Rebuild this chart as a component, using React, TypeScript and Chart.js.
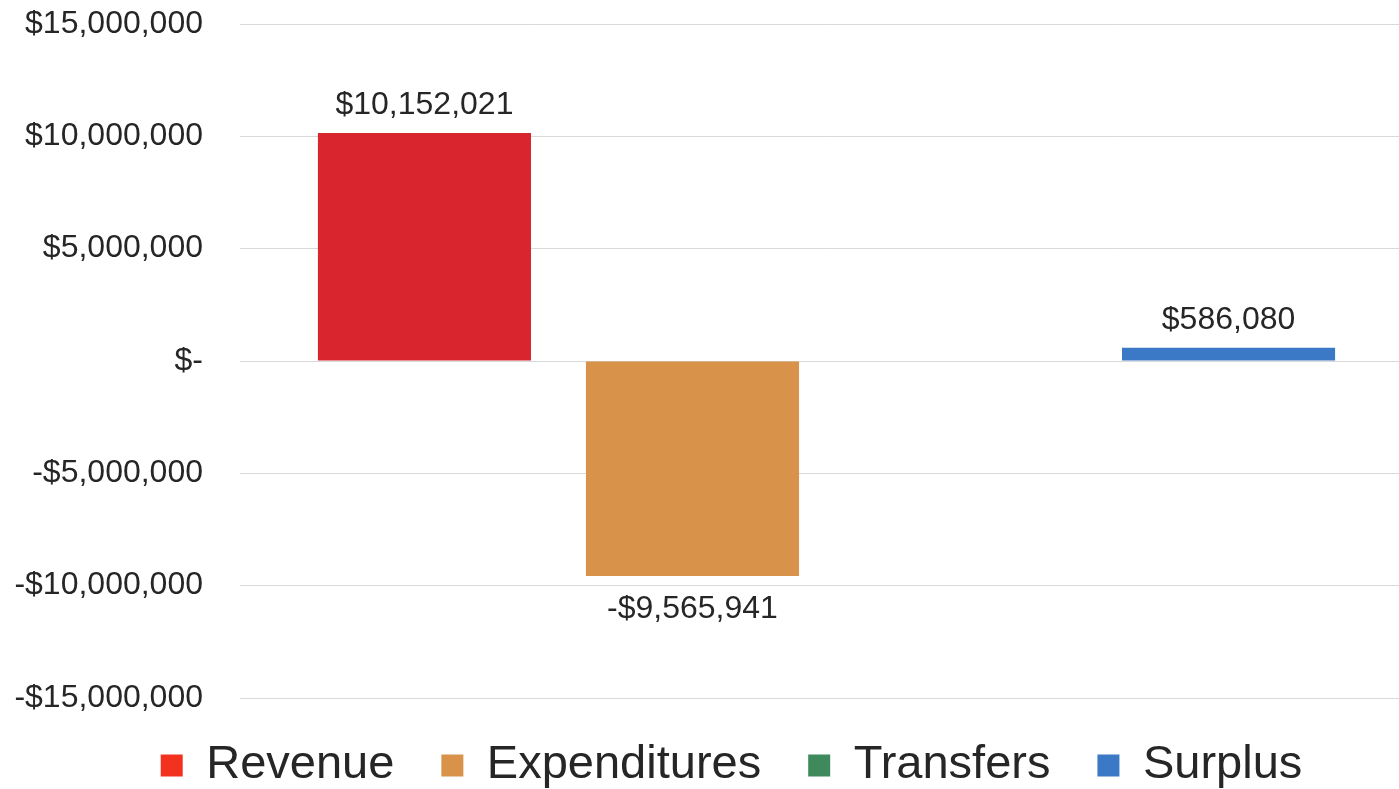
import React, { useEffect, useRef } from "react";
import { Chart, registerables } from "chart.js";

Chart.register(...registerables);

const categories = [""];
const seriesNames = ["Revenue", "Expenditures", "Transfers", "Surplus"];
const seriesValues = [10152021, -9565941, 0, 586080];
const seriesColors = ["#d9252e", "#d8924a", "#3f8a5c", "#3b78c6"];
const legendColors = ["#f2321f", "#d8924a", "#3f8a5c", "#3b78c6"];
const tickValues = [-15000000, -10000000, -5000000, 0, 5000000, 10000000, 15000000];

const fmt = (v: number) => {
  if (v === 0) return "$-";
  const s = Math.abs(v).toLocaleString("en-US");
  return (v < 0 ? "-$" : "$") + s;
};

const FONT = "'Liberation Sans', Arial, sans-serif";

const valueLabels = {
  id: "valueLabels",
  afterDatasetsDraw(chart: any) {
    const ctx = chart.ctx;
    ctx.save();
    ctx.font = `32px ${FONT}`;
    ctx.fillStyle = "#262626";
    ctx.textAlign = "center";
    ctx.textBaseline = "middle";
    chart.data.datasets.forEach((ds: any, i: number) => {
      const meta = chart.getDatasetMeta(i);
      meta.data.forEach((bar: any, j: number) => {
        const v = ds.data[j];
        if (!v) return;
        const y = v >= 0 ? bar.y - 28 : bar.y + 33;
        ctx.fillText(fmt(v), bar.x, y);
      });
    });
    ctx.restore();
  },
};

const legendShift = {
  id: "legendShift",
  afterLayout(chart: any) {
    if (chart.legend) {
      chart.legend.top -= 3;
      chart.legend.bottom -= 3;
      chart.legend.left += 25;
      chart.legend.right += 25;
    }
  },
};

export default function App() {
  const ref = useRef<HTMLCanvasElement>(null);
  useEffect(() => {
    if (!ref.current) return;
    const chart = new Chart(ref.current, {
      type: "bar",
      data: {
        labels: categories,
        datasets: seriesNames.map((n, i) => ({
          label: n,
          data: [seriesValues[i]],
          backgroundColor: seriesColors[i],
          borderWidth: 0,
          categoryPercentage: 0.914,
          barPercentage: 0.795,
        })),
      },
      options: {
        animation: false,
        responsive: false,
        maintainAspectRatio: false,
        layout: { padding: { left: 0, top: 24, right: 0, bottom: 0 } },
        plugins: {
          tooltip: { enabled: false },
          legend: {
            position: "bottom",
            labels: {
              font: { family: FONT, size: 47 },
              color: "#262626",
              boxWidth: 22,
              boxHeight: 22,
              padding: 47,
              generateLabels: (chart: any) =>
                chart.data.datasets.map((ds: any, i: number) => ({
                  text: ds.label,
                  fillStyle: legendColors[i],
                  strokeStyle: legendColors[i],
                  lineWidth: 0,
                  hidden: false,
                  datasetIndex: i,
                  fontColor: "#262626",
                })),
            },
          },
        },
        scales: {
          x: { display: false },
          y: {
            min: -15000000,
            max: 15000000,
            afterBuildTicks: (scale: any) => {
              scale.ticks = tickValues.map((v) => ({ value: v }));
            },
            afterFit: (scale: any) => {
              scale.width = 240;
            },
            border: { display: false },
            grid: {
              color: "#d9d9d9",
              lineWidth: 1,
              drawTicks: true,
              tickLength: 37,
              tickColor: "rgba(0,0,0,0)",
            },
            ticks: {
              padding: 0,
              color: "#262626",
              font: { family: FONT, size: 32 },
              callback: (v: any) => fmt(Number(v)),
            },
          },
        },
      },
      plugins: [valueLabels, legendShift],
    });
    return () => chart.destroy();
  }, []);
  return (
    <div style={{ position: "fixed", left: 0, top: 0, width: 1399, height: 789, overflow: "hidden", background: "#fff" }}>
      <canvas ref={ref} width={1413} height={802} style={{ width: 1413, height: 802, display: "block" }} />
    </div>
  );
}
